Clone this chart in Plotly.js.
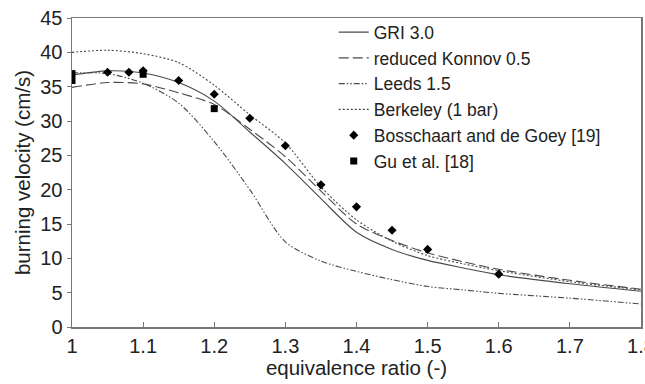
<!DOCTYPE html>
<html>
<head>
<meta charset="utf-8">
<script src="https://cdn.plot.ly/plotly-3.0.1.min.js"></script>
<style>html,body{margin:0;padding:0;background:#fff}#chart{width:645px;height:384px}</style>
</head>
<body>
<div id="chart"></div>
<script>
// Equivalence ratio grid for model curves
const phiModel = [1.0, 1.05, 1.1, 1.15, 1.2, 1.25, 1.3, 1.35, 1.4, 1.45, 1.5, 1.55, 1.6, 1.7, 1.8];
const gri30 =    [36.7, 37.3, 37.0, 35.6, 32.9, 28.4, 23.8, 18.7, 13.8, 11.3, 9.7, 8.6, 7.6, 6.3, 5.2];
const konnov05 = [34.9, 35.6, 35.4, 34.1, 32.4, 28.8, 24.8, 19.8, 15.0, 12.6, 10.8, 9.5, 8.4, 6.8, 5.5];
const leeds15 =  [37.0, 36.9, 35.5, 32.6, 27.0, 20.0, 12.4, 9.6, 8.1, 6.9, 5.9, 5.4, 4.9, 4.2, 3.35];
const berkeley = [40.0, 40.3, 39.8, 38.5, 35.2, 30.9, 26.8, 20.4, 15.6, 12.5, 10.4, 9.2, 8.2, 6.6, 5.4];
// Measurements
const phiBosschaart = [1.05, 1.08, 1.1, 1.15, 1.2, 1.25, 1.3, 1.35, 1.4, 1.45, 1.5, 1.6];
const sBosschaart =   [37.1, 37.1, 37.3, 35.9, 33.9, 30.4, 26.4, 20.7, 17.5, 14.1, 11.3, 7.7];
const phiGu = [1.0, 1.0, 1.1, 1.2];
const sGu =   [36.9, 35.9, 36.8, 31.8];
const xTicks = [1, 1.1, 1.2, 1.3, 1.4, 1.5, 1.6, 1.7, 1.8];
const xTickText = ['1', '1.1', '1.2', '1.3', '1.4', '1.5', '1.6', '1.7', '1.8'];
const yTicks = [0, 5, 10, 15, 20, 25, 30, 35, 40, 45];

const lc = '#4a4a4a';
const traces = [
  {x: phiModel, y: gri30, name: 'GRI 3.0', mode: 'lines', line: {color: lc, width: 1.1, shape: 'spline', smoothing: 0.8}},
  {x: phiModel, y: konnov05, name: 'reduced Konnov 0.5', mode: 'lines', line: {color: lc, width: 1.1, dash: '10px,4px', shape: 'spline', smoothing: 0.8}},
  {x: phiModel, y: leeds15, name: 'Leeds 1.5', mode: 'lines', line: {color: lc, width: 1.1, dash: '6px,2px,1.5px,2px,1.5px,2px', shape: 'spline', smoothing: 0.8}},
  {x: phiModel, y: berkeley, name: 'Berkeley (1 bar)', mode: 'lines', line: {color: lc, width: 1.1, dash: '2px,2px', shape: 'spline', smoothing: 0.8}},
  {x: phiBosschaart, y: sBosschaart, name: 'Bosschaart and de Goey [19]', mode: 'markers', marker: {symbol: 'diamond', size: 7, color: '#000'}},
  {x: phiGu, y: sGu, name: 'Gu et al. [18]', mode: 'markers', marker: {symbol: 'square', size: 7, color: '#000'}}
];

const fam = '"Liberation Sans", Arial, sans-serif';
const tickFont = {family: fam, size: 20, color: '#222'};
const titleFont = {family: fam, size: 20.5, color: '#222'};
const layout = {
  width: 645, height: 384,
  margin: {l: 72, r: 4, t: 18, b: 57},
  paper_bgcolor: '#fff', plot_bgcolor: '#fff',
  showlegend: true,
  legend: {x: 0.46, xanchor: 'left', y: 1.012, yanchor: 'top', bgcolor: 'rgba(0,0,0,0)', borderwidth: 0,
           font: {family: fam, size: 17.5, color: '#222'}},
  xaxis: {range: [1, 1.8], tickvals: xTicks, ticktext: xTickText, ticks: 'inside', ticklen: 5, tickcolor: '#777',
          ticklabeloverflow: 'allow',
          showline: true, linecolor: '#777', linewidth: 1.5, mirror: true, showgrid: false, zeroline: false,
          tickfont: tickFont, title: {text: 'equivalence ratio (-)', font: titleFont, standoff: 4}},
  yaxis: {range: [0, 45], tickvals: yTicks, ticks: 'outside', ticklen: 4, tickcolor: '#777',
          showline: true, linecolor: '#777', linewidth: 1.5, mirror: true, showgrid: false, zeroline: false,
          tickfont: tickFont, title: {text: 'burning velocity (cm/s)', font: titleFont, standoff: 4}}
};
Plotly.newPlot('chart', traces, layout, {displayModeBar: false, staticPlot: true});
</script>
</body>
</html>
